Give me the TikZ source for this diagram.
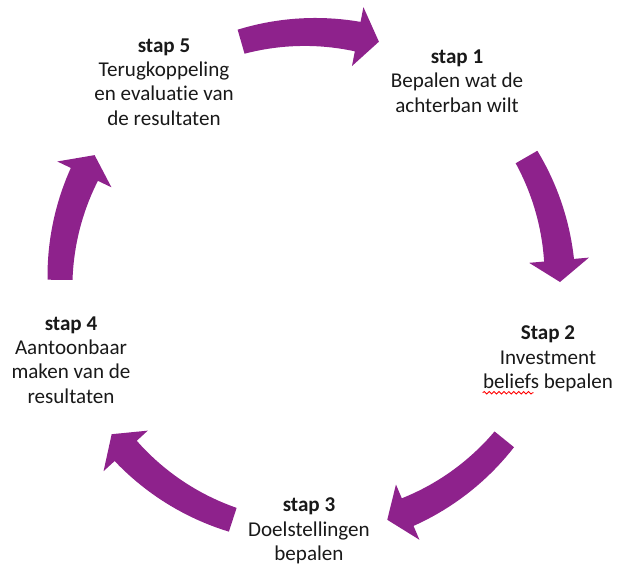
\documentclass[tikz,border=0pt]{standalone}
\usepackage{fontspec}
\setmainfont{Carlito}[Ligatures={NoCommon}]
\usetikzlibrary{decorations.pathmorphing}
\definecolor{paars}{RGB}{142,34,140}
\begin{document}
\begin{tikzpicture}[x=0.02cm,y=0.02cm,
  pijl/.style={fill=paars},
  tekst/.style={align=center,inner sep=0pt,text=black!90,font=\fontsize{12}{13.8}\selectfont},
  golf/.style={red,line width=0.5pt,decorate,decoration={snake,amplitude=0.7pt,segment length=2.8pt}}]
\useasboundingbox (-310,-284) rectangle (308,282);
% pijlen
\foreach \a/\b/\c in {106/79/74,30/5/0,-39/-67/-72,-108/-137.5/-142.5,179.5/154.5/149.5}{
\fill[pijl] plot[domain=\a:\b,samples=20] (\x:{262.5+2.5*(\x-\a)/(\b-\a)}) -- (\b:280) -- (\c:250) -- (\b:220)
  -- plot[domain=\b:\a,samples=20] (\x:{237.5-2.5*(\x-\a)/(\b-\a)}) -- cycle;}
% stappen
\draw (147,201) node[tekst] (s1) {\textbf{stap 1}\\Bepalen wat de\\achterban wilt};
\draw (238,-77) node[tekst] (s2) {\textbf{Stap 2}\\Investment\\beliefs bepalen};
\draw (-1,-249) node[tekst] (s3) {\textbf{stap 3}\\Doelstellingen\\bepalen};
\draw (-239,-78) node[tekst] (s4) {\textbf{stap 4}\\Aantoonbaar\\maken van de\\resultaten};
\draw (-146,200) node[tekst] (s5) {\textbf{stap 5}\\Terugkoppeling\\en evaluatie van\\de resultaten};
\draw[golf] ([yshift=-0.3pt]s2.south west) -- ++(51,0);
\end{tikzpicture}
\end{document}
